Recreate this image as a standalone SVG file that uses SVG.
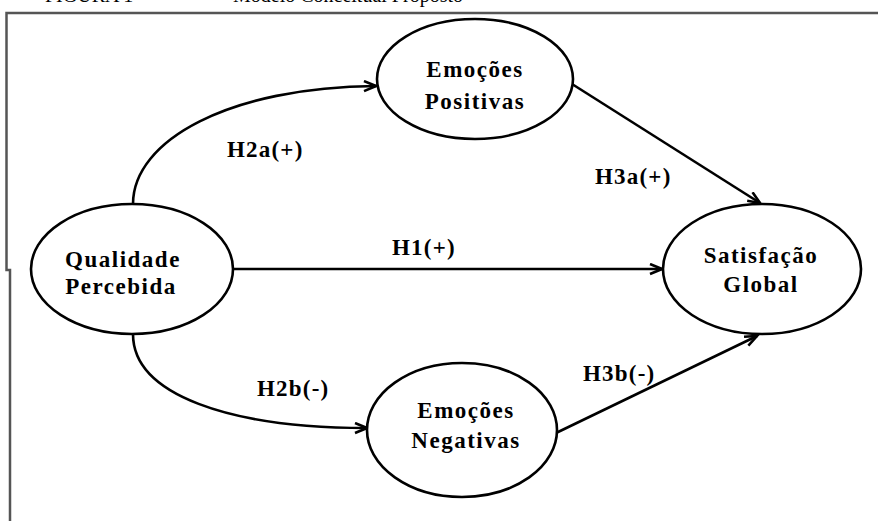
<svg xmlns="http://www.w3.org/2000/svg" width="878" height="521" viewBox="0 0 878 521">
<style>
.node{fill:#fff;stroke:#000;stroke-width:2.6}
.lbl{font-family:"Liberation Serif","Times New Roman",serif;font-weight:bold;font-size:23px;letter-spacing:1.5px;fill:#000;text-anchor:middle}
.hl{font-family:"Liberation Serif","Times New Roman",serif;font-weight:bold;font-size:23px;letter-spacing:1.2px;fill:#000}
.edge{fill:none;stroke:#000;stroke-width:2.6}
.frame{fill:none;stroke:#555;stroke-width:2.5}
.cap{font-family:"Liberation Serif","Times New Roman",serif;font-size:20px;fill:#000}
</style>
<defs>
<marker id="arr" markerUnits="userSpaceOnUse" markerWidth="16" markerHeight="14" refX="13" refY="6" orient="auto">
<path d="M1,1 L13,6 L1,11" fill="none" stroke="#000" stroke-width="2.6" stroke-linejoin="miter"/>
</marker>
</defs>
<text class="cap" y="1.5"><tspan x="45">FIGURA 1</tspan><tspan x="218">– Modelo Conceitual Proposto</tspan></text>
<g id="frame">
<path class="frame" d="M878,13 L6.5,13 L6.5,270 L10,270 L10,521"/>
</g>
<g id="connectors">
<path class="edge" d="M133,204 C133,140 230,87 376,86" marker-end="url(#arr)"/>
<path class="edge" d="M133,334 C133,395 230,428 367,428" marker-end="url(#arr)"/>
<path class="edge" d="M233,269 L662,269" marker-end="url(#arr)"/>
<path class="edge" d="M572,84 L760,203" marker-end="url(#arr)"/>
<path class="edge" d="M556,433 L757,336" marker-end="url(#arr)"/>
<text class="hl" x="227" y="157">H2a(+)</text>
<text class="hl" x="257" y="396">H2b(-)</text>
<text class="hl" x="392" y="255">H1(+)</text>
<text class="hl" x="595" y="184">H3a(+)</text>
<text class="hl" x="583" y="381">H3b(-)</text>
</g>
<g id="qualidade">
<ellipse class="node" cx="132" cy="269" rx="101" ry="65"/>
<text class="lbl" x="123" y="267">Qualidade</text>
<text class="lbl" x="121" y="294">Percebida</text>
</g>
<g id="positivas">
<ellipse class="node" cx="475" cy="79" rx="98" ry="60"/>
<text class="lbl" x="475" y="77">Emoções</text>
<text class="lbl" x="475" y="109">Positivas</text>
</g>
<g id="negativas">
<ellipse class="node" cx="462" cy="430" rx="95" ry="67"/>
<text class="lbl" x="466" y="418">Emoções</text>
<text class="lbl" x="466" y="448">Negativas</text>
</g>
<g id="satisfacao">
<ellipse class="node" cx="762" cy="269" rx="99" ry="65"/>
<text class="lbl" x="761" y="263">Satisfação</text>
<text class="lbl" x="761" y="292">Global</text>
</g>
</svg>
